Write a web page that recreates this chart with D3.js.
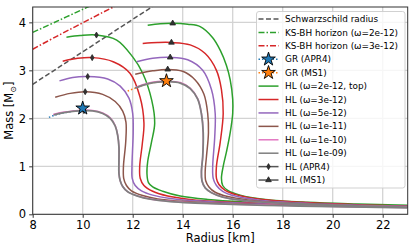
<!DOCTYPE html>
<html>
<head>
<meta charset="utf-8">
<script src="https://cdn.jsdelivr.net/npm/d3@7/dist/d3.min.js"></script>
<style>
  body { margin: 0; background: #fff; }
  text { font-family: "DejaVu Sans", sans-serif; }
</style>
</head>
<body>
<div id="chart"></div>
<script>
// ---- data: [radius km, mass Msun] ----
const xTicks = [8, 10, 12, 14, 16, 18, 20, 22];
const yTicks = [0, 1, 2, 3, 4];

const schwarzschild = [[8, 2.71], [13.0, 4.40]];
const ksHorizon2e12 = [[8, 3.79], [9, 4.03], [10, 4.27], [10.5, 4.39]];
const ksHorizon3e12 = [[8, 3.44], [9, 3.72], [10, 3.99], [11, 4.26], [11.5, 4.39]];

const grApr4 = [[8.65, 2.02], [8.85, 2.06], [9.2, 2.11], [9.6, 2.145], [10.0, 2.16]];
const grMs1 = [[11.8, 2.57], [12.1, 2.63], [12.6, 2.72], [13.0, 2.755], [13.35, 2.765]];
const grApr4Star = [10.0, 2.21];
const grMs1Star = [13.35, 2.78];

// APR4 family (left)
const apr4_w2e12 = [[9.35, 3.69], [9.9, 3.725], [10.55, 3.735], [11.36, 3.63], [12.0, 3.28], [12.4, 2.94],
  [12.76, 2.38], [12.88, 1.9], [12.75, 1.5], [12.6, 1.1], [12.57, 0.85], [12.63, 0.66], [12.8, 0.57],
  [13.2, 0.48], [13.9, 0.38], [15.0, 0.31], [16.5, 0.26], [18.5, 0.22], [20.5, 0.19], [23, 0.165]];
const apr4_w3e12 = [[9.2, 3.19], [9.8, 3.25], [10.38, 3.265], [11.22, 3.18], [11.89, 2.94], [12.29, 2.45],
  [12.45, 1.9], [12.38, 1.45], [12.28, 1.0], [12.3, 0.75], [12.45, 0.6], [12.8, 0.48], [13.4, 0.38],
  [14.3, 0.31], [15.5, 0.26], [17.5, 0.22], [20, 0.18], [23, 0.155]];
const apr4_w5e12 = [[9.07, 2.78], [9.6, 2.85], [10.2, 2.87], [11.0, 2.82], [11.5, 2.67], [11.85, 2.42],
  [12.0, 2.1], [12.02, 1.7], [11.99, 1.3], [11.97, 1.0], [11.98, 0.75], [12.1, 0.6], [12.35, 0.49],
  [12.8, 0.4], [13.5, 0.33], [14.5, 0.28], [16, 0.24], [18, 0.2], [20.5, 0.17], [23, 0.15]];
const apr4_w1e11 = [[8.9, 2.44], [9.5, 2.52], [10.1, 2.555], [10.8, 2.5], [11.3, 2.35], [11.6, 2.15],
  [11.73, 1.92], [11.72, 1.5], [11.63, 1.0], [11.64, 0.75], [11.75, 0.6], [11.95, 0.49], [12.4, 0.39],
  [13.0, 0.32], [14.0, 0.27], [15.5, 0.23], [17.5, 0.2], [20, 0.17], [23, 0.145]];
const apr4_w1e10 = [[8.82, 2.08], [9.2, 2.125], [9.6, 2.155], [10.0, 2.17], [10.4, 2.165], [10.8, 2.11],
  [11.1, 2.01], [11.3, 1.85], [11.4, 1.65], [11.45, 1.4], [11.45, 1.1], [11.45, 0.85], [11.5, 0.7],
  [11.6, 0.58], [11.8, 0.47], [12.2, 0.38], [12.7, 0.32], [13.5, 0.27], [14.5, 0.24], [16, 0.21],
  [18, 0.185], [20, 0.165], [23, 0.14]];
const apr4_w1e09 = [[8.85, 2.07], [9.2, 2.115], [9.6, 2.145], [10.0, 2.16], [10.4, 2.155], [10.8, 2.1],
  [11.1, 2.0], [11.3, 1.84], [11.4, 1.64], [11.45, 1.4], [11.45, 1.1], [11.45, 0.85], [11.5, 0.7],
  [11.6, 0.58], [11.8, 0.47], [12.2, 0.38], [12.7, 0.315], [13.5, 0.265], [14.5, 0.235], [16, 0.205],
  [18, 0.18], [20, 0.16], [23, 0.135]];

// MS1 family (right)
const ms1_w2e12 = [[12.6, 3.94], [13.1, 3.97], [13.6, 3.98], [14.2, 3.96], [14.7, 3.91], [15.2, 3.68],
  [15.5, 3.42], [15.75, 3.1], [15.9, 2.8], [16.0, 2.4], [16.0, 2.1], [15.9, 1.7], [15.75, 1.3],
  [15.62, 1.0], [15.55, 0.75], [15.6, 0.6], [15.8, 0.5], [16.3, 0.4], [17.3, 0.31], [19, 0.25],
  [21, 0.215], [23, 0.19]];
const ms1_w3e12 = [[12.4, 3.56], [13.0, 3.58], [13.55, 3.58], [14.3, 3.53], [14.9, 3.35], [15.35, 3.0],
  [15.55, 2.6], [15.62, 2.1], [15.5, 1.5], [15.35, 1.0], [15.35, 0.75], [15.45, 0.62], [15.7, 0.5],
  [16.2, 0.4], [17.2, 0.31], [18.8, 0.25], [21, 0.2], [23, 0.175]];
const ms1_w5e12 = [[12.16, 3.18], [12.8, 3.25], [13.5, 3.27], [14.2, 3.22], [14.8, 3.0], [15.15, 2.6],
  [15.3, 2.1], [15.28, 1.6], [15.2, 1.0], [15.22, 0.75], [15.35, 0.6], [15.6, 0.48], [16.1, 0.38],
  [17.0, 0.3], [18.5, 0.24], [21, 0.19], [23, 0.17]];
const ms1_w1e11 = [[12.1, 2.92], [12.8, 2.99], [13.4, 3.02], [14.0, 2.98], [14.5, 2.8], [14.85, 2.5],
  [15.0, 2.1], [15.03, 1.7], [14.95, 1.2], [14.9, 0.9], [14.92, 0.7], [15.05, 0.57], [15.3, 0.46],
  [15.8, 0.37], [16.6, 0.3], [18, 0.24], [20.5, 0.19], [23, 0.165]];
const ms1_w1e10 = [[12.1, 2.64], [12.6, 2.73], [13.0, 2.765], [13.4, 2.775], [13.9, 2.745], [14.3, 2.63],
  [14.6, 2.41], [14.75, 2.1], [14.82, 1.7], [14.8, 1.2], [14.75, 0.9], [14.77, 0.7], [14.9, 0.55],
  [15.15, 0.45], [15.6, 0.36], [16.4, 0.29], [18, 0.23], [20, 0.19], [23, 0.155]];
const ms1_w1e09 = [[12.1, 2.63], [12.6, 2.72], [13.0, 2.755], [13.4, 2.765], [13.9, 2.735], [14.3, 2.62],
  [14.6, 2.4], [14.75, 2.09], [14.82, 1.7], [14.8, 1.2], [14.75, 0.9], [14.77, 0.7], [14.9, 0.55],
  [15.15, 0.45], [15.6, 0.36], [16.4, 0.29], [18, 0.23], [20, 0.19], [23, 0.15]];

// markers at the maximum-mass point of each HL curve
const apr4Markers = [[10.55, 3.735], [10.38, 3.265], [10.2, 2.87], [10.1, 2.555], [10.05, 2.16]];
const ms1Markers = [[13.6, 3.98], [13.55, 3.58], [13.5, 3.27], [13.4, 3.02], [13.35, 2.765]];

const hlLabels = ["HL (\u03c9=2e-12, top)", "HL (\u03c9=3e-12)", "HL (\u03c9=5e-12)",
  "HL (\u03c9=1e-11)", "HL (\u03c9=1e-10)", "HL (\u03c9=1e-09)"];
const hlColors = ["#2ca02c", "#d62728", "#9467bd", "#8c564b", "#e377c2", "#7f7f7f"];

// ---- layout ----
const W = 416, H = 251;
const margin = { top: 7, right: 8.3, bottom: 36.7, left: 32.7 };
const width = W - margin.left - margin.right;
const height = H - margin.top - margin.bottom;

const svg = d3.select("#chart").append("svg").attr("width", W).attr("height", H);
const g = svg.append("g").attr("transform", `translate(${margin.left},${margin.top})`);

const x = d3.scaleLinear().domain([8, 23]).range([0, width]);
const y = d3.scaleLinear().domain([0, 4.32]).range([height, 0]);

svg.append("defs").append("clipPath").attr("id", "clip")
  .append("rect").attr("width", width).attr("height", height);

// grid
g.append("g").selectAll("line").data(xTicks).join("line")
  .attr("x1", (d) => x(d)).attr("x2", (d) => x(d)).attr("y1", 0).attr("y2", height)
  .attr("stroke", "#d3d3d3").attr("stroke-width", 1.3);
g.append("g").selectAll("line").data(yTicks).join("line")
  .attr("y1", (d) => y(d)).attr("y2", (d) => y(d)).attr("x1", 0).attr("x2", width)
  .attr("stroke", "#d3d3d3").attr("stroke-width", 1.3);

const line = d3.line().x((d) => x(d[0])).y((d) => y(d[1])).curve(d3.curveCatmullRom.alpha(0.5));
const plot = g.append("g").attr("clip-path", "url(#clip)");

// horizons
plot.append("path").attr("d", line(schwarzschild)).attr("fill", "none")
  .attr("stroke", "#555").attr("stroke-width", 1.5).attr("stroke-dasharray", "5,2.5");
plot.append("path").attr("d", line(ksHorizon2e12)).attr("fill", "none")
  .attr("stroke", "#2ca02c").attr("stroke-width", 1.5).attr("stroke-dasharray", "6,2,1.5,2");
plot.append("path").attr("d", line(ksHorizon3e12)).attr("fill", "none")
  .attr("stroke", "#d62728").attr("stroke-width", 1.5).attr("stroke-dasharray", "6,2,1.5,2");

// GR curves (dotted)
plot.append("path").attr("d", line(grApr4)).attr("fill", "none")
  .attr("stroke", "#1f77b4").attr("stroke-width", 1.5).attr("stroke-dasharray", "1.5,2");
plot.append("path").attr("d", line(grMs1)).attr("fill", "none")
  .attr("stroke", "#ff7f0e").attr("stroke-width", 1.5).attr("stroke-dasharray", "1.5,2");

// HL curves
const apr4Curves = [apr4_w2e12, apr4_w3e12, apr4_w5e12, apr4_w1e11, apr4_w1e10, apr4_w1e09];
const ms1Curves = [ms1_w2e12, ms1_w3e12, ms1_w5e12, ms1_w1e11, ms1_w1e10, ms1_w1e09];
hlColors.forEach((c, i) => {
  [apr4Curves[i], ms1Curves[i]].forEach((pts) => {
    plot.append("path").attr("d", line(pts)).attr("fill", "none")
      .attr("stroke", c).attr("stroke-width", i == 5 ? 1.8 : 1.5);
  });
});

// markers
const diamond = d3.symbol().type(d3.symbolDiamond2).size(16);
const triangle = d3.symbol().type(d3.symbolTriangle).size(14);
const star = d3.symbol().type(d3.symbolStar).size(58);

plot.selectAll(".dia").data(apr4Markers).join("path").attr("class", "dia")
  .attr("d", diamond).attr("transform", (d) => `translate(${x(d[0])},${y(d[1])}) scale(0.7,1.2)`)
  .attr("fill", "#333").attr("stroke", "#222").attr("stroke-width", 0.8);
plot.selectAll(".tri").data(ms1Markers).join("path").attr("class", "tri")
  .attr("d", triangle).attr("transform", (d) => `translate(${x(d[0])},${y(d[1])})`)
  .attr("fill", "#333").attr("stroke", "#222").attr("stroke-width", 0.8);

[[grApr4Star, "#1f77b4"], [grMs1Star, "#ff7f0e"]].forEach(([p, c]) => {
  plot.append("path").attr("d", star).attr("transform", `translate(${x(p[0])},${y(p[1])})`)
    .attr("fill", c).attr("stroke", "#000").attr("stroke-width", 0.9);
});

// axes
const xAxis = g.append("g").attr("transform", `translate(0,${height})`)
  .call(d3.axisBottom(x).tickValues(xTicks).tickSize(3.5).tickPadding(3).tickFormat(d3.format("d")));
const yAxis = g.append("g")
  .call(d3.axisLeft(y).tickValues(yTicks).tickSize(3.5).tickPadding(3).tickFormat(d3.format("d")));
[xAxis, yAxis].forEach((a) => {
  a.select(".domain").remove();
  a.selectAll("text").attr("font-size", 11.5).attr("font-family", "DejaVu Sans").attr("fill", "#000");
  a.selectAll("line").attr("stroke", "#000").attr("stroke-width", 0.8);
});
g.append("rect").attr("width", width).attr("height", height)
  .attr("fill", "none").attr("stroke", "#333").attr("stroke-width", 1);

svg.append("text").attr("x", margin.left + width / 2).attr("y", 242)
  .attr("text-anchor", "middle").attr("font-size", 11.5).text("Radius [km]");
const yl = svg.append("text").attr("transform", `translate(13,${margin.top + height / 2}) rotate(-90)`)
  .attr("text-anchor", "middle").attr("font-size", 11.5);
yl.append("tspan").text("Mass [M");
yl.append("tspan").attr("font-size", 8).attr("dy", 3).text("\u2299");
yl.append("tspan").attr("dy", -3).text("]");

// legend
const legendItems = [
  { label: "Schwarzschild radius", type: "line", color: "#555", dash: "5,2.5" },
  { label: "KS-BH horizon (\u03c9=2e-12)", type: "line", color: "#2ca02c", dash: "6,2,1.5,2" },
  { label: "KS-BH horizon (\u03c9=3e-12)", type: "line", color: "#d62728", dash: "6,2,1.5,2" },
  { label: "GR (APR4)", type: "star", color: "#1f77b4" },
  { label: "GR (MS1)", type: "star", color: "#ff7f0e" },
  ...hlLabels.map((l, i) => ({ label: l, type: "line", color: hlColors[i] })),
  { label: "HL (APR4)", type: "dia", color: "#555" },
  { label: "HL (MS1)", type: "tri", color: "#555" }
];
const lg = svg.append("g");
lg.append("rect").attr("x", 256.5).attr("y", 11.5).attr("width", 148.5).attr("height", 176.5)
  .attr("rx", 2.5).attr("fill", "#fff").attr("fill-opacity", 0.8)
  .attr("stroke", "#ccc").attr("stroke-width", 0.9);
legendItems.forEach((it, i) => {
  const yy = 19 + i * 13.42;
  if (it.type == "star") {
    lg.append("line").attr("x1", 258.5).attr("x2", 278.5).attr("y1", yy).attr("y2", yy)
      .attr("stroke", it.color).attr("stroke-width", 1.5).attr("stroke-dasharray", "1.5,2");
    lg.append("path").attr("d", star).attr("transform", `translate(268.5,${yy})`)
      .attr("fill", it.color).attr("stroke", "#000").attr("stroke-width", 0.9);
  } else {
    lg.append("line").attr("x1", 258.5).attr("x2", 278.5).attr("y1", yy).attr("y2", yy)
      .attr("stroke", it.color).attr("stroke-width", 1.5).attr("stroke-dasharray", it.dash || null);
    if (it.type == "dia") {
      lg.append("path").attr("d", diamond).attr("transform", `translate(268.5,${yy}) scale(0.7,1.2)`)
        .attr("fill", "#333").attr("stroke", "#222").attr("stroke-width", 0.8);
    } else if (it.type == "tri") {
      lg.append("path").attr("d", triangle).attr("transform", `translate(268.5,${yy})`)
        .attr("fill", "#333").attr("stroke", "#222").attr("stroke-width", 0.8);
    }
  }
  lg.append("text").attr("x", 285).attr("y", yy).attr("dy", "0.35em")
    .attr("font-size", 8.9).attr("fill", "#000").text(it.label);
});
</script>
</body>
</html>
